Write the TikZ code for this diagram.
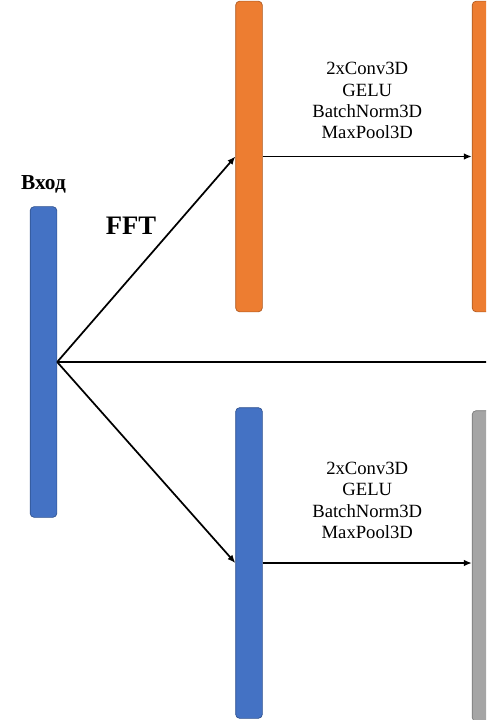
\documentclass[tikz,border=0pt]{standalone}
\usepackage{fontspec}
\setmainfont{Liberation Serif}
\usetikzlibrary{positioning,arrows.meta}

\definecolor{barblue}{RGB}{68,114,196}
\definecolor{barblueline}{RGB}{47,82,143}
\definecolor{barorange}{RGB}{237,125,49}
\definecolor{barorangeline}{RGB}{174,90,33}
\definecolor{bargray}{RGB}{165,165,165}
\definecolor{bargrayline}{RGB}{120,120,120}

\tikzset{
	bar/.style={draw, rounded corners=3pt, inner sep=0pt, minimum width=20pt, minimum height=233pt, line width=0.5pt},
	bluebar/.style={bar, fill=barblue, draw=barblueline},
	orangebar/.style={bar, fill=barorange, draw=barorangeline},
	graybar/.style={bar, fill=bargray, draw=bargrayline},
	arr/.style={-{Latex[length=6pt,width=5pt]}, line width=1.3pt},
	ops/.style={align=center, font=\fontsize{14}{16}\selectfont, inner sep=2pt}
}

\begin{document}
\begin{tikzpicture}[x=0.75pt,y=-0.75pt]
			\useasboundingbox (0,0) rectangle (486,720);
			\clip (0,0) rectangle (486,720);
			% bars
			\node[bluebar]   (in)   at (43.5,362) {};
			\node[orangebar] (fft1) at (249,156.5) {};
			\node[orangebar] (fft2) at (485.5,156.5) {};
			\node[bluebar]   (sp1)  at (249,563) {};
			\node[graybar]   (sp2)  at (485.5,566) {};
			\coordinate (skip) at (490,362);
			% labels
			\node[above=6pt of in, font=\fontsize{16}{18}\selectfont\bfseries] (inlbl) {Вход};
			\node[font=\fontsize{20}{22}\selectfont\bfseries] (fftlbl) at (131,226) {FFT};
			% connections
			\draw[arr] (in.east) -- (fft1.west);
			\draw[arr] (in.east) -- (sp1.west);
			\draw[line width=1.3pt] (in.east) -- (skip);
			\draw[arr] (fft1.east) -- node[ops, above=10.5pt] {2xConv3D\\GELU\\BatchNorm3D\\MaxPool3D} (fft1.east -| fft2.west);
			\draw[arr] (sp1.east) -- node[ops, above=15.5pt] {2xConv3D\\GELU\\BatchNorm3D\\MaxPool3D} (sp1.east -| sp2.west);
		\end{tikzpicture}
\end{document}
